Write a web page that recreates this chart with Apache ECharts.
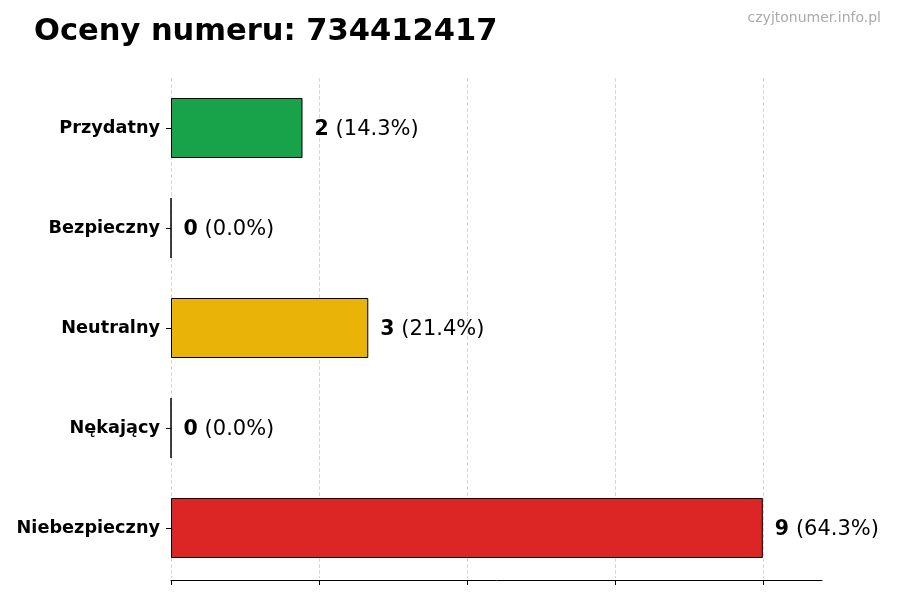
<!DOCTYPE html>
<html><head><meta charset="utf-8">
<script src="https://cdn.jsdelivr.net/npm/echarts@6/dist/echarts.min.js"></script>
<style>html,body{margin:0;padding:0;background:#fff}#c{width:900px;height:600px}</style>
</head><body><div id="c"></div>
<script>
const categories = ["Przydatny", "Bezpieczny", "Neutralny", "Nękający", "Niebezpieczny"];
const counts = [2, 0, 3, 0, 9];
const percents = ["14.3%", "0.0%", "21.4%", "0.0%", "64.3%"];
const colors = ["#18a34a", "#3b82f6", "#eab308", "#f97316", "#dc2626"];
const xTicks = [0, 2.25, 4.5, 6.75, 9];

const chart = echarts.init(document.getElementById('c'));
chart.setOption({
  animation: false,
  backgroundColor: '#fff',
  textStyle: { fontFamily: 'DejaVu Sans' },
  title: [
    { text: 'Oceny numeru: 734412417', left: 29, top: 12,
      textStyle: { fontSize: 30.5, fontWeight: 'bold', color: '#000', fontFamily: 'DejaVu Sans' } },
    { text: 'czyjtonumer.info.pl', right: 14, top: 6,
      textStyle: { fontSize: 14, fontWeight: 'normal', color: '#aaa', fontFamily: 'DejaVu Sans' } }
  ],
  grid: { left: 171, right: 78, top: 78, bottom: 22, containLabel: false },
  xAxis: {
    type: 'value', min: 0, max: 9.9, interval: xTicks[1] - xTicks[0], offset: 2,
    axisLabel: { show: false },
    axisLine: { show: true, lineStyle: { color: '#000', width: 1 } },
    axisTick: { show: true, length: 5, lineStyle: { color: '#000' }, customValues: xTicks },
    splitLine: { show: true, lineStyle: { type: 'dashed', color: '#d6d6d6', width: 1 } }
  },
  yAxis: {
    type: 'category', data: categories, inverse: true,
    axisLine: { show: false },
    axisTick: { show: true, length: 5, alignWithLabel: true, lineStyle: { color: '#000' } },
    axisLabel: { fontSize: 17.7, fontWeight: 'bold', color: '#000', margin: 11, fontFamily: 'DejaVu Sans',
      padding: [3, 0, 0, 0] }
  },
  series: [{
    type: 'bar', barWidth: 60,
    data: counts.map((v, i) => ({ value: v, itemStyle: { color: colors[i] } })),
    itemStyle: { borderColor: '#000', borderWidth: 1 },
    label: {
      show: true, position: 'right', distance: 12, offset: [0, 2],
      formatter: p => '{b|' + counts[p.dataIndex] + '} {n|(' + percents[p.dataIndex] + ')}',
      rich: {
        b: { fontSize: 20.5, fontWeight: 'bold', color: '#000', fontFamily: 'DejaVu Sans', padding: [0, 3, 0, 0] },
        n: { fontSize: 21, color: '#000', fontFamily: 'DejaVu Sans' }
      }
    }
  }]
});
</script></body></html>
